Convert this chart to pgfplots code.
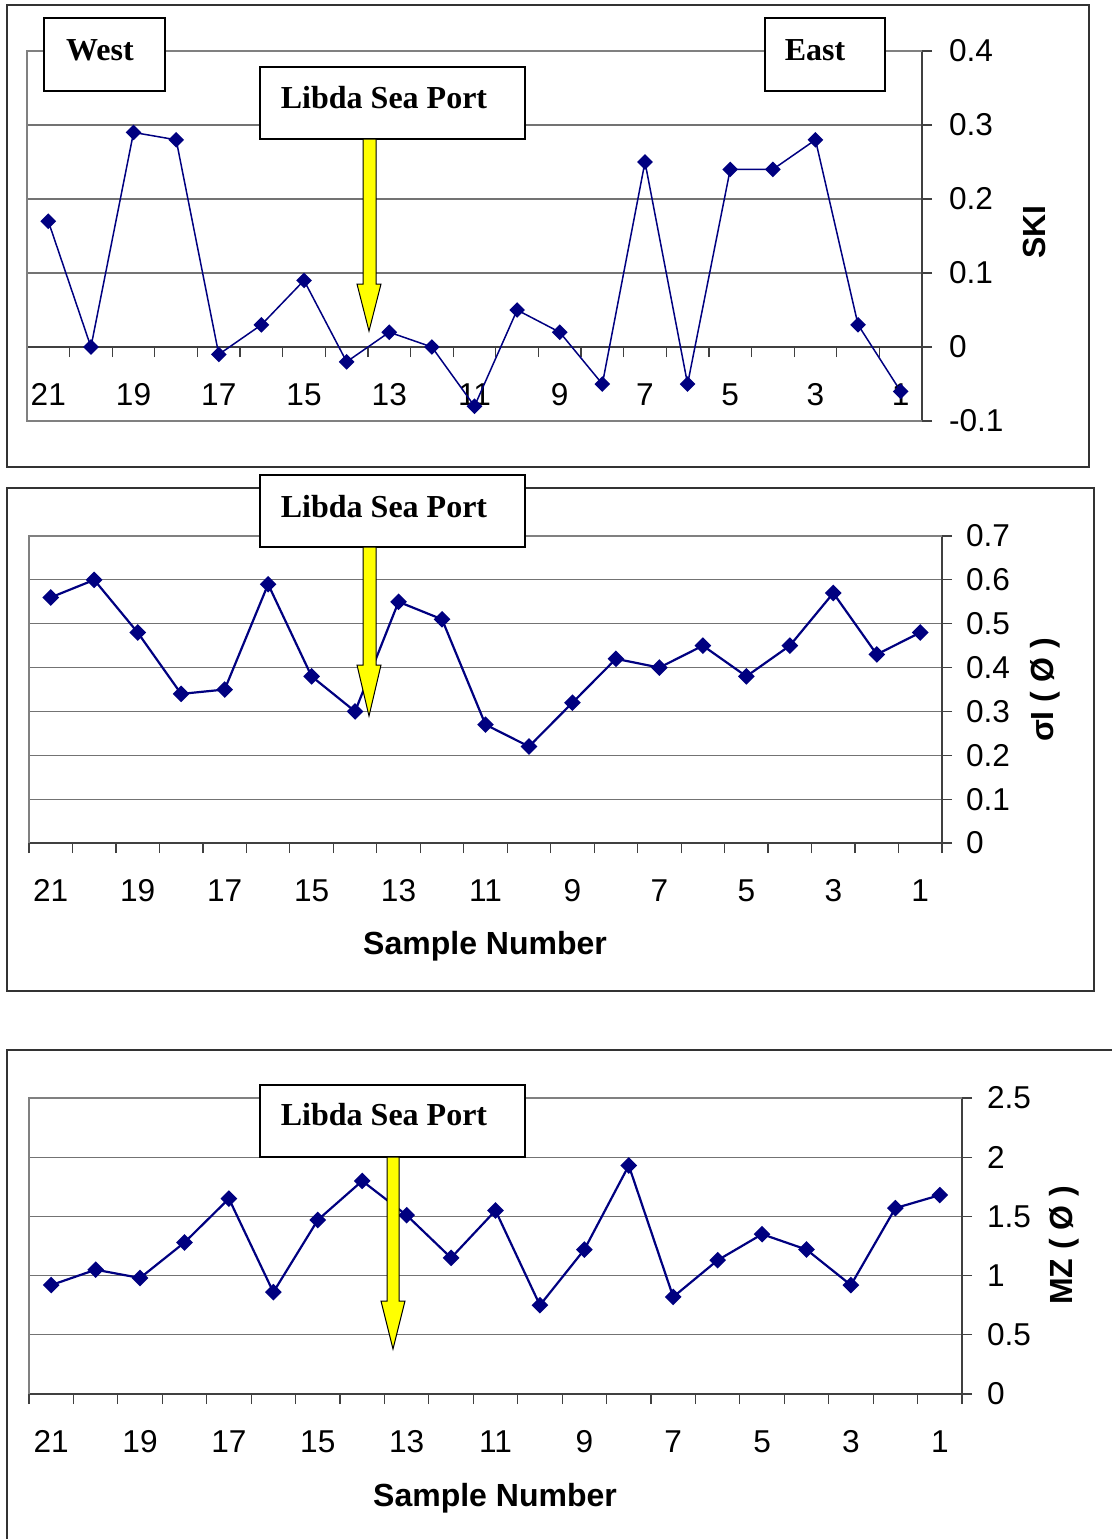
\documentclass[border=0pt]{standalone}
\usepackage{fontspec}
\setmainfont{Liberation Sans}
\newfontfamily\tnr{Liberation Serif}
\usepackage{pgfplots}
\pgfplotsset{compat=1.18}
\definecolor{navy}{RGB}{0,0,128}
\definecolor{yel}{RGB}{255,255,0}
\tikzset{plotborder/.style={black!50, line width=0.8pt}}
\newcommand\lblfont{\fontsize{16}{19}\selectfont\bfseries}
\pgfplotsset{
  panel/.style={
    scale only axis, clip=false,
    xmin=0.5, xmax=21.5,
    xtick={1,3,...,21},
    xticklabels={21,19,17,15,13,11,9,7,5,3,1},
    minor xtick={0.5,1.5,...,21.5},
    major x tick style={draw=none},
    minor x tick style={black!75, line width=0.6pt},
    minor tick length=5pt,
    major tick length=5pt,
    tick align=outside,
    ytick style={black!75, line width=0.6pt},
    axis line style={black!75, line width=0.7pt},
    ymajorgrids,
    grid style={black!55, line width=0.6pt},
    axis y line*=right,
    ticklabel style={font=\fontsize{15.8}{18}\selectfont},
    xticklabel style={yshift=-9.8pt},
    /pgf/number format/assume math mode=true,
    every axis plot/.append style={navy, mark=square*, mark size=2.4pt,
      mark options={rotate=45, fill=navy, draw=navy, solid}},
  },
}
\begin{document}
\begin{tikzpicture}
\clip (0pt,0pt) rectangle (556pt,-769.5pt);
% ---------- Panel 1: SKI ----------
\begin{axis}[panel,
  at={(13.5pt,-210.5pt)}, anchor=south west,
  width=447.5pt, height=185pt,
  ymin=-0.1, ymax=0.4,
  ytick={-0.1,0,0.1,0.2,0.3,0.4},
  yticklabels={-0.1,0,0.1,0.2,0.3,0.4},
  yticklabel style={xshift=5pt},
  axis x line*=middle,
  ylabel={SKI},
  every axis y label/.style={at={(rel axis cs:1.126,0.511)}, rotate=90, anchor=center, font=\lblfont},
]
\draw[plotborder] (rel axis cs:1,0) -- (rel axis cs:0,0) -- (rel axis cs:0,1) -- (rel axis cs:1,1);
\addplot[line width=0.75pt] coordinates {
 (1,0.17) (2,0) (3,0.29) (4,0.28) (5,-0.01) (6,0.03) (7,0.09) (8,-0.02) (9,0.02) (10,0)
 (11,-0.08) (12,0.05) (13,0.02) (14,-0.05) (15,0.25) (16,-0.05) (17,0.24) (18,0.24) (19,0.28) (20,0.03) (21,-0.06)};
\end{axis}
% ---------- Panel 2: sigma I ----------
\begin{axis}[panel,
  at={(14.5pt,-421.5pt)}, anchor=south west,
  width=456.5pt, height=153.5pt,
  ymin=0, ymax=0.7,
  ytick={0,0.1,0.2,0.3,0.4,0.5,0.6,0.7},
  yticklabels={0,0.1,0.2,0.3,0.4,0.5,0.6,0.7},
  yticklabel style={xshift=3.5pt},
  axis x line*=bottom,
  xlabel={Sample Number},
  ylabel={σI ( Ø )},
  every axis x label/.style={at={(rel axis cs:0.4995,-0.336)}, anchor=center, font=\lblfont},
  every axis y label/.style={at={(rel axis cs:1.113,0.498)}, rotate=90, anchor=center, font=\lblfont},
]
\draw[plotborder] (rel axis cs:0,0) -- (rel axis cs:0,1) -- (rel axis cs:1,1);
\addplot[line width=1.1pt] coordinates {
 (1,0.56) (2,0.60) (3,0.48) (4,0.34) (5,0.35) (6,0.59) (7,0.38) (8,0.30) (9,0.55) (10,0.51)
 (11,0.27) (12,0.22) (13,0.32) (14,0.42) (15,0.40) (16,0.45) (17,0.38) (18,0.45) (19,0.57) (20,0.43) (21,0.48)};
\end{axis}
% ---------- Panel 3: MZ ----------
\begin{axis}[panel,
  at={(14.5pt,-697pt)}, anchor=south west,
  width=466.5pt, height=148pt,
  ymin=0, ymax=2.5,
  ytick={0,0.5,1,1.5,2,2.5},
  yticklabels={0,0.5,1,1.5,2,2.5},
  yticklabel style={xshift=4pt},
  axis x line*=bottom,
  xlabel={Sample Number},
  ylabel={MZ ( Ø )},
  every axis x label/.style={at={(rel axis cs:0.4995,-0.351)}, anchor=center, font=\lblfont},
  every axis y label/.style={at={(rel axis cs:1.110,0.503)}, rotate=90, anchor=center, font=\lblfont},
]
\draw[plotborder] (rel axis cs:0,0) -- (rel axis cs:0,1) -- (rel axis cs:1,1);
\addplot[line width=1.1pt] coordinates {
 (1,0.92) (2,1.05) (3,0.98) (4,1.28) (5,1.65) (6,0.86) (7,1.47) (8,1.80) (9,1.51) (10,1.15)
 (11,1.55) (12,0.75) (13,1.22) (14,1.93) (15,0.82) (16,1.13) (17,1.35) (18,1.22) (19,0.92) (20,1.57) (21,1.68)};
\end{axis}
% ---------- decorations (pixel coordinates) ----------
\begin{scope}[x=0.5pt, y=-0.5pt]
\draw[black!80, line width=0.8pt] (7,5) rectangle (1089,467);
\draw[black!80, line width=0.8pt] (7,488) rectangle (1094,991);
\draw[black!80, line width=0.8pt] (7,1050) rectangle (1130,1560);
\tikzset{tbox/.style={draw=black, fill=white, line width=0.8pt},
         ttext/.style={font=\tnr\fontsize{16}{19}\selectfont\bfseries, anchor=center}}
\draw[tbox] (44,18) rectangle (165,91);
\node[ttext] at (100,50) {West};
\draw[tbox] (765,18) rectangle (885,91);
\node[ttext] at (815,50) {East};
\draw[tbox] (260,67) rectangle (525,139);
\node[ttext] at (384,98) {Libda Sea Port};
\draw[tbox] (260,475) rectangle (525,547);
\node[ttext] at (384,507) {Libda Sea Port};
\draw[tbox] (260,1085) rectangle (525,1157);
\node[ttext] at (384,1115) {Libda Sea Port};
\tikzset{yarrow/.style={fill=yel, draw=black, line width=0.5pt, line join=miter}}
\draw[yarrow] (363,139) -- (376,139) -- (376,284) -- (381,284) -- (369,331) -- (357,284) -- (363,284) -- cycle;
\draw[yarrow] (363,547) -- (376,547) -- (376,665) -- (381,665) -- (369,716) -- (357,665) -- (363,665) -- cycle;
\draw[yarrow] (387,1157) -- (399,1157) -- (399,1301) -- (405,1301) -- (393,1349) -- (381,1301) -- (387,1301) -- cycle;
\end{scope}
\end{tikzpicture}
\end{document}
